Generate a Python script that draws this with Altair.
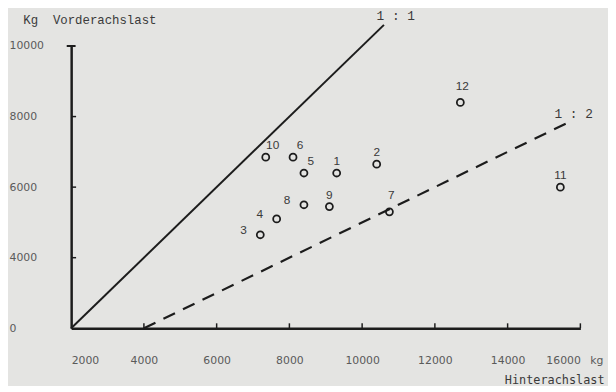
import altair as alt
import pandas as pd

# ---- data ----
ids = ["1", "2", "3", "4", "5", "6", "7", "8", "9", "10", "11", "12"]
hinterachslast = [9300, 10400, 7200, 7650, 8400, 8100, 10750, 8400, 9100, 7350, 15450, 12700]
vorderachslast = [6400, 6650, 4650, 5100, 6400, 6850, 5300, 5500, 5450, 6850, 6000, 8400]

x_ticks = [2000, 4000, 6000, 8000, 10000, 12000, 14000, 16000]
x_tick_labels = ["2000", "4000", "6000", "8000", "10000", "12000", "14000", "16000"]
y_ticks = [2000, 4000, 6000, 8000, 10000]
y_tick_labels = ["0", "4000", "6000", "8000", "10000"]

line_11_x = [2000, 10600]
line_11_y = [2000, 10600]
line_12_x = [4000, 15600]
line_12_y = [2000, 7800]

# label placement groups (which side of the circle the number sits)
label_ne = ["10", "6", "5"]
label_n = ["1", "2", "9", "11"]
label_n_high = ["7", "12"]
label_w = ["8", "4", "3"]

# ---- build tables ----
x0, y0 = x_ticks[0], y_ticks[0]
pts = pd.DataFrame({"id": ids, "x": hinterachslast, "y": vorderachslast})
l11 = pd.DataFrame({"x": line_11_x, "y": line_11_y})
l12 = pd.DataFrame({"x": line_12_x, "y": line_12_y})
xt = pd.DataFrame({"x": x_ticks[1:], "y": [y0] * (len(x_ticks) - 1)})
yt = pd.DataFrame({"y": y_ticks[1:-1], "x": [x0] * (len(y_ticks) - 2)})
ycap = pd.DataFrame({"y": y_ticks[-1:], "x": [x0]})
kgd = pd.DataFrame({"x": x_ticks[-1:], "y": [y0]})


def label_expr(values, labels):
    expr = "''"
    for v, l in reversed(list(zip(values, labels))):
        expr = f"datum.value == {v} ? '{l}' : ({expr})"
    return expr


INK = "#1c1c1c"
TXT = "#3a3a3a"
LBL = "#5a5a5a"

xscale = alt.Scale(domain=[2000, 16000], nice=False, zero=False)
yscale = alt.Scale(domain=[2000, 10000], nice=False, zero=False)

x_axis = alt.Axis(
    values=x_ticks, labelExpr=label_expr(x_ticks, x_tick_labels), labelFlush=True,
    ticks=False, grid=False, domainColor=INK, domainWidth=2.5,
    labelFont="DejaVu Sans", labelFontSize=11, labelColor=LBL, labelPadding=27,
    title="Hinterachslast", titleX=540, titleY=52, titleAlign="right",
    titleBaseline="middle", titleFont="DejaVu Sans Mono", titleFontSize=12,
    titleFontWeight="normal", titleColor=TXT,
)
y_axis = alt.Axis(
    values=y_ticks, labelExpr=label_expr(y_ticks, y_tick_labels),
    ticks=False, grid=False, domainColor=INK, domainWidth=2.5,
    labelFont="DejaVu Sans", labelFontSize=11, labelColor=LBL,
    labelAlign="left", labelBaseline="middle", labelPadding=63,
    title="Kg\u00a0\u00a0Vorderachslast", titleAngle=0, titleX=-49, titleY=-27,
    titleAlign="left", titleBaseline="middle", titleFont="Liberation Mono",
    titleFontSize=12.5, titleFontWeight="normal", titleColor=TXT,
)


def X():
    return alt.X("x:Q", scale=xscale, axis=x_axis)


def Y():
    return alt.Y("y:Q", scale=yscale, axis=y_axis)


points = alt.Chart(pts).mark_point(
    shape="circle", filled=False, size=50, strokeWidth=1.8, color=INK, opacity=1
).encode(x=X(), y=Y())

line11 = alt.Chart(l11).mark_line(color=INK, strokeWidth=2).encode(x=X(), y=Y())
line12 = alt.Chart(l12).mark_line(color=INK, strokeWidth=2.2, strokeDash=[13, 9]).encode(x=X(), y=Y())

xticks = alt.Chart(xt).mark_tick(
    orient="vertical", size=5, thickness=1.5, yOffset=-2.5, color=INK, opacity=1
).encode(x=X(), y=Y())
yticks = alt.Chart(yt).mark_tick(
    orient="horizontal", size=5, thickness=1.5, xOffset=2.5, color=INK, opacity=1
).encode(x=X(), y=Y())
ycaps = alt.Chart(ycap).mark_tick(
    orient="horizontal", size=9, thickness=2, color=INK, opacity=1
).encode(x=X(), y=Y())


def labels(group, dx, dy):
    return alt.Chart(pts).transform_filter(
        alt.FieldOneOfPredicate(field="id", oneOf=group)
    ).mark_text(
        dx=dx, dy=dy, font="Liberation Sans", fontSize=12, color=TXT
    ).encode(x=X(), y=Y(), text="id:N")


lab_ne = labels(label_ne, 7, -12)
lab_n = labels(label_n, 0, -12)
lab_nh = labels(label_n_high, 2, -17)
lab_w = labels(label_w, -17, -5)

t11 = alt.Chart(l11.tail(1)).mark_text(
    text="1 : 1", dx=12, dy=-9, font="Liberation Mono", fontSize=13, color=TXT
).encode(x=X(), y=Y())
t12 = alt.Chart(l12.tail(1)).mark_text(
    text="1 : 2", dx=8, dy=-10, font="Liberation Mono", fontSize=13, color=TXT
).encode(x=X(), y=Y())
kg = alt.Chart(kgd).mark_text(
    text="kg", align="left", baseline="middle", dx=10, dy=33,
    font="DejaVu Sans", fontSize=11, color=LBL
).encode(x=X(), y=Y())

chart = alt.layer(
    line11, line12, xticks, yticks, ycaps, points,
    lab_ne, lab_n, lab_nh, lab_w, t11, t12, kg
).properties(
    width=516, height=286,
    autosize=alt.AutoSizeParams(type="none"),
    padding={"left": 64, "top": 36, "right": 28, "bottom": 56},
    background="#e4e4e2",
).configure_view(stroke=None)

chart.save("out.html", embed_options={"renderer": "svg", "actions": False})
